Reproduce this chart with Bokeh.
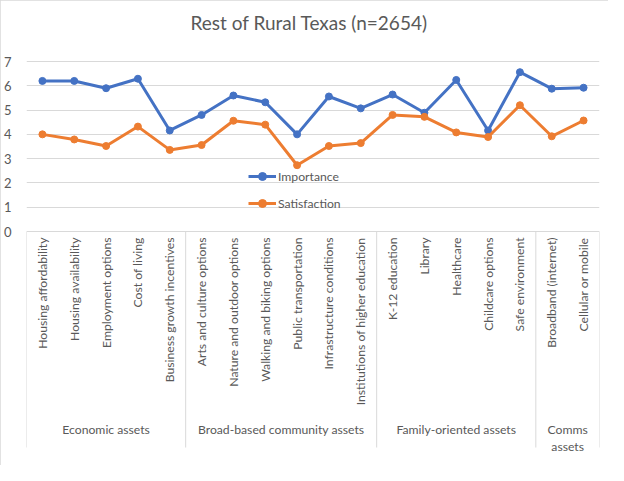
import math
from bokeh.plotting import figure
from bokeh.models import (Range1d, LinearAxis, FixedTicker, ColumnDataSource, Legend, LegendItem, Grid)
from bokeh.core.properties import value
from bokeh.embed import file_html
from bokeh.resources import INLINE

title = "Rest of Rural Texas (n=2654)"
categories = ["Housing affordability", "Housing availability", "Employment options", "Cost of living",
              "Business growth incentives", "Arts and culture options", "Nature and outdoor options",
              "Walking and biking options", "Public transportation", "Infrastructure conditions",
              "Institutions of higher education", "K-12 education", "Library", "Healthcare",
              "Childcare options", "Safe environment", "Broadband (internet)", "Cellular or mobile"]
groups = ["Economic assets", "Broad-based community assets", "Family-oriented assets", "Comms\nassets"]
group_sizes = [5, 6, 5, 2]
importance = [6.2, 6.2, 5.9, 6.29, 4.16, 4.8, 5.6, 5.32, 4.0, 5.56, 5.07, 5.64, 4.89, 6.24, 4.16, 6.56, 5.88, 5.92]
satisfaction = [4.0, 3.79, 3.52, 4.32, 3.36, 3.56, 4.56, 4.4, 2.73, 3.52, 3.64, 4.8, 4.72, 4.08, 3.89, 5.2, 3.92, 4.57]
y_ticks = [0, 1, 2, 3, 4, 5, 6, 7]

FONT = "Lato"
GREY = "#595959"
LINE = "#d9d9d9"
BLUE = "#4472C4"
ORANGE = "#ED7D31"

W, H = 608, 465
TOP7 = 61                            # pixel row of value 7
LEFT, RIGHT, BOTTOM, TOPB = 19, 9, 3, 1
PX = 170 / 7.0                       # pixels per unit
Y_MAX = 7 + (TOP7 - TOPB) / PX
Y_MIN = 7 - (H - BOTTOM - TOP7) / PX
SEP_END = 7 - (447 - TOP7) / PX
CAT_Y = 7 - (237 - TOP7) / PX
GROUP_Y = 7 - (421 - TOP7) / PX
TITLE_Y = 7 + (TOP7 - 22) / PX

p = figure(width=W, height=H, output_backend="svg", toolbar_location=None,
           x_range=Range1d(0, len(categories)), y_range=Range1d(Y_MIN, Y_MAX),
           min_border_left=LEFT, min_border_right=RIGHT, min_border_top=TOPB, min_border_bottom=BOTTOM,
           x_axis_type=None, y_axis_type=None)
p.outline_line_color = None
p.background_fill_color = "white"
p.border_fill_color = "white"
p.styles = {"outline": "1px solid #d9d9d9", "outline-offset": "-1px"}

# title
p.text(x=[len(categories) / 2 - 0.12], y=[TITLE_Y], text=[title], text_align="center",
       text_baseline="middle", text_font=value(FONT), text_font_size="19px", text_color=GREY)

yaxis = LinearAxis(ticker=FixedTicker(ticks=y_ticks))
yaxis.axis_line_color = None
yaxis.major_tick_line_color = None
yaxis.minor_tick_line_color = None
yaxis.major_label_standoff = 9
yaxis.major_label_text_font = FONT
yaxis.major_label_text_font_size = "13px"
yaxis.major_label_text_color = GREY
p.add_layout(yaxis, "left")
p.add_layout(Grid(dimension=1, ticker=FixedTicker(ticks=y_ticks), grid_line_color=LINE, grid_line_width=1))

xs = [i + 0.5 for i in range(len(categories))]

# separators
bounds = [0]
for s in group_sizes:
    bounds.append(bounds[-1] + s)
p.segment(x0=bounds, y0=[0] * len(bounds), x1=bounds, y1=[SEP_END] * len(bounds),
          line_color=LINE, line_width=1)

# category labels
p.text(x=xs, y=[CAT_Y] * len(xs), text=categories, angle=math.pi / 2,
       text_align="right", text_baseline="middle", text_font=value(FONT),
       text_font_size="12.2px", text_color=GREY)

# group labels
gx = [(bounds[i] + bounds[i + 1]) / 2 for i in range(len(groups))]
p.text(x=gx, y=[GROUP_Y] * len(gx), text=groups, text_align="center", text_baseline="top",
       text_font=value(FONT), text_font_size="12.2px", text_color=GREY, text_line_height=1.15)

src = ColumnDataSource(dict(x=xs, imp=importance, sat=satisfaction))
l1 = p.line("x", "imp", source=src, line_color=BLUE, line_width=3)
m1 = p.scatter("x", "imp", source=src, size=7, fill_color=BLUE, line_color=BLUE)
l2 = p.line("x", "sat", source=src, line_color=ORANGE, line_width=3)
m2 = p.scatter("x", "sat", source=src, size=7, fill_color=ORANGE, line_color=ORANGE)

legend = Legend(items=[LegendItem(label="Importance", renderers=[l1, m1]),
                       LegendItem(label="Satisfaction", renderers=[l2, m2])],
                location=(222, 249), orientation="vertical")
legend.background_fill_alpha = 0
legend.border_line_color = None
legend.padding = 0
legend.margin = 0
legend.spacing = 7
legend.glyph_width = 28
legend.glyph_height = 20
legend.label_standoff = 2
legend.label_text_font = FONT
legend.label_text_font_size = "12.2px"
legend.label_text_color = GREY
p.add_layout(legend)

open("out.html", "w").write(file_html(p, INLINE))
